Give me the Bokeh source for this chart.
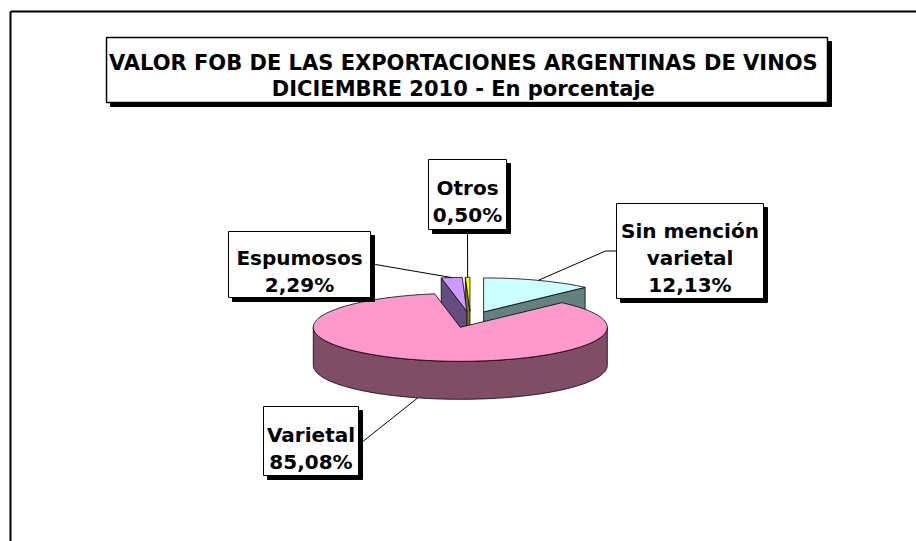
import numpy as np
from bokeh.plotting import figure
from bokeh.models import Range1d
from bokeh.core.properties import value
from bokeh.embed import file_html
from bokeh.resources import INLINE

# ---------------- data ----------------
categories = ["Sin mención varietal", "Varietal", "Espumosos", "Otros"]
shares = [12.13, 85.08, 2.29, 0.50]
label_names = [["Sin mención", "varietal"], ["Varietal"], ["Espumosos"], ["Otros"]]
title_lines = ["VALOR FOB DE LAS EXPORTACIONES  ARGENTINAS DE VINOS",
               "DICIEMBRE 2010  - En porcentaje"]

# ---------------- style / layout ----------------
top_colors = ["#CCFFFF", "#FF99CC", "#CC99FF", "#FFFF00"]
side_colors = ["#668080", "#804D66", "#664D80", "#808000"]

FONT = value("DejaVu Sans")
FSIZE = "20px"
TITLE_FSIZE = "21px"
CAP_HALF = 7.3
LINE_H = 27

W, H = 916, 541
CX, CY = 470.0, 319.0      # pie centre (page px)
RX, RY = 147.0, 34.0       # ellipse radii
DEPTH = 38.0
EXPLODE = 0.24

# label boxes: left, top, right, bottom ; leader elbow ; attach point
label_boxes = [(616, 203, 763, 298), (263, 406, 358, 475), (228, 231, 370, 297), (428, 159, 506, 229)]
label_elbows = [(605, 250.5), (363, 440.5), (375, 264), (467, 229)]
label_attach = [(616, 250.5), (358, 440.5), (370, 264), (467, 229)]
title_box = (106, 37, 827, 102)
TITLE_TEXT_SHIFT = -1.5
TITLE_LINE_H = 26
SHADOW = 4

p = figure(width=W, height=H, x_range=Range1d(0, W), y_range=Range1d(H, 0),
           output_backend="svg", toolbar_location=None, min_border=0)
p.axis.visible = False
p.grid.visible = False
p.outline_line_color = None
p.background_fill_color = "white"
p.border_fill_color = "white"

# chart frame (left & top edges visible)
p.multi_line(xs=[[10, 10], [10, W]], ys=[[H, 11], [11, 11]], line_color="black", line_width=2)

# ---------------- pie geometry ----------------
total = float(sum(shares))
bounds = np.concatenate([[0.0], np.cumsum(shares) / total * 360.0])


def arc(t0, t1, ox, oy, dy=0.0, n=None):
    if n is None:
        n = max(4, int(abs(t1 - t0) / 1.5) + 2)
    t = np.radians(np.linspace(t0, t1, n))
    return list(ox + RX * np.sin(t)), list(oy - RY * np.cos(t) + dy)


slices = []
for i in range(len(shares)):
    ts, te = bounds[i], bounds[i + 1]
    mid = np.radians((ts + te) / 2)
    ox = CX + EXPLODE * RX * np.sin(mid)
    oy = CY - EXPLODE * RY * np.cos(mid)
    slices.append((i, ts, te, mid, ox, oy))

order = sorted(slices, key=lambda s: -np.cos(s[3]))
pxs, pys, pfill = [], [], []
for (i, ts, te, mid, ox, oy) in order:
    # radial cut faces
    for ang, vis in ((ts, np.sin(np.radians(ts)) < -1e-9), (te, np.sin(np.radians(te)) > 1e-9)):
        if vis:
            ax, ay = arc(ang, ang, ox, oy, n=1)
            pxs.append([ox, ax[0], ax[0], ox])
            pys.append([oy, ay[0], ay[0] + DEPTH, oy + DEPTH])
            pfill.append(side_colors[i])
    # outer rim (front half)
    a0, a1 = max(ts, 90.0), min(te, 270.0)
    if a1 > a0:
        tx, ty = arc(a0, a1, ox, oy)
        bx, by = arc(a1, a0, ox, oy, dy=DEPTH)
        pxs.append(tx + bx)
        pys.append(ty + by)
        pfill.append(side_colors[i])
    # top face
    tx, ty = arc(ts, te, ox, oy)
    pxs.append([ox] + tx)
    pys.append([oy] + ty)
    pfill.append(top_colors[i])

p.patches(xs=pxs, ys=pys, fill_color=pfill, line_color="black", line_width=0.8)

# ---------------- leader lines ----------------
lx, ly = [], []
for (i, ts, te, mid, ox, oy) in slices:
    tx = ox + RX * np.sin(mid)
    ty = oy - RY * np.cos(mid) + (DEPTH if np.cos(mid) < 0 else 0.0)
    ex, ey = label_elbows[i]
    axp, ayp = label_attach[i]
    lx.append([tx, ex, axp])
    ly.append([ty, ey, ayp])
p.multi_line(xs=lx, ys=ly, line_color="black", line_width=1)


# ---------------- boxes & texts ----------------
def draw_box(box, lw):
    l, t, r, b = box
    p.quad(left=[l + SHADOW], right=[r + SHADOW], top=[t + SHADOW], bottom=[b + SHADOW],
           fill_color="black", line_color="black")
    p.quad(left=[l], right=[r], top=[t], bottom=[b], fill_color="white",
           line_color="black", line_width=lw)


def draw_lines(box, lines, lh, size, shift=0.0):
    l, t, r, b = box
    cxb, cyb = (l + r) / 2, (t + b) / 2 + shift
    n = len(lines)
    ys = [cyb + (k - (n - 1) / 2) * lh + CAP_HALF for k in range(n)]
    p.text(x=[cxb] * n, y=ys, text=lines, text_font=FONT, text_font_style="bold",
           text_font_size=size, text_align="center", text_baseline="alphabetic",
           text_color="black")


draw_box(title_box, 1.5)
draw_lines(title_box, title_lines, TITLE_LINE_H, TITLE_FSIZE, TITLE_TEXT_SHIFT)

for i in range(len(shares)):
    pct = f"{shares[i]:.2f}".replace(".", ",") + "%"
    draw_box(label_boxes[i], 1)
    draw_lines(label_boxes[i], label_names[i] + [pct], LINE_H, FSIZE)

open("out.html", "w").write(file_html(p, INLINE))
